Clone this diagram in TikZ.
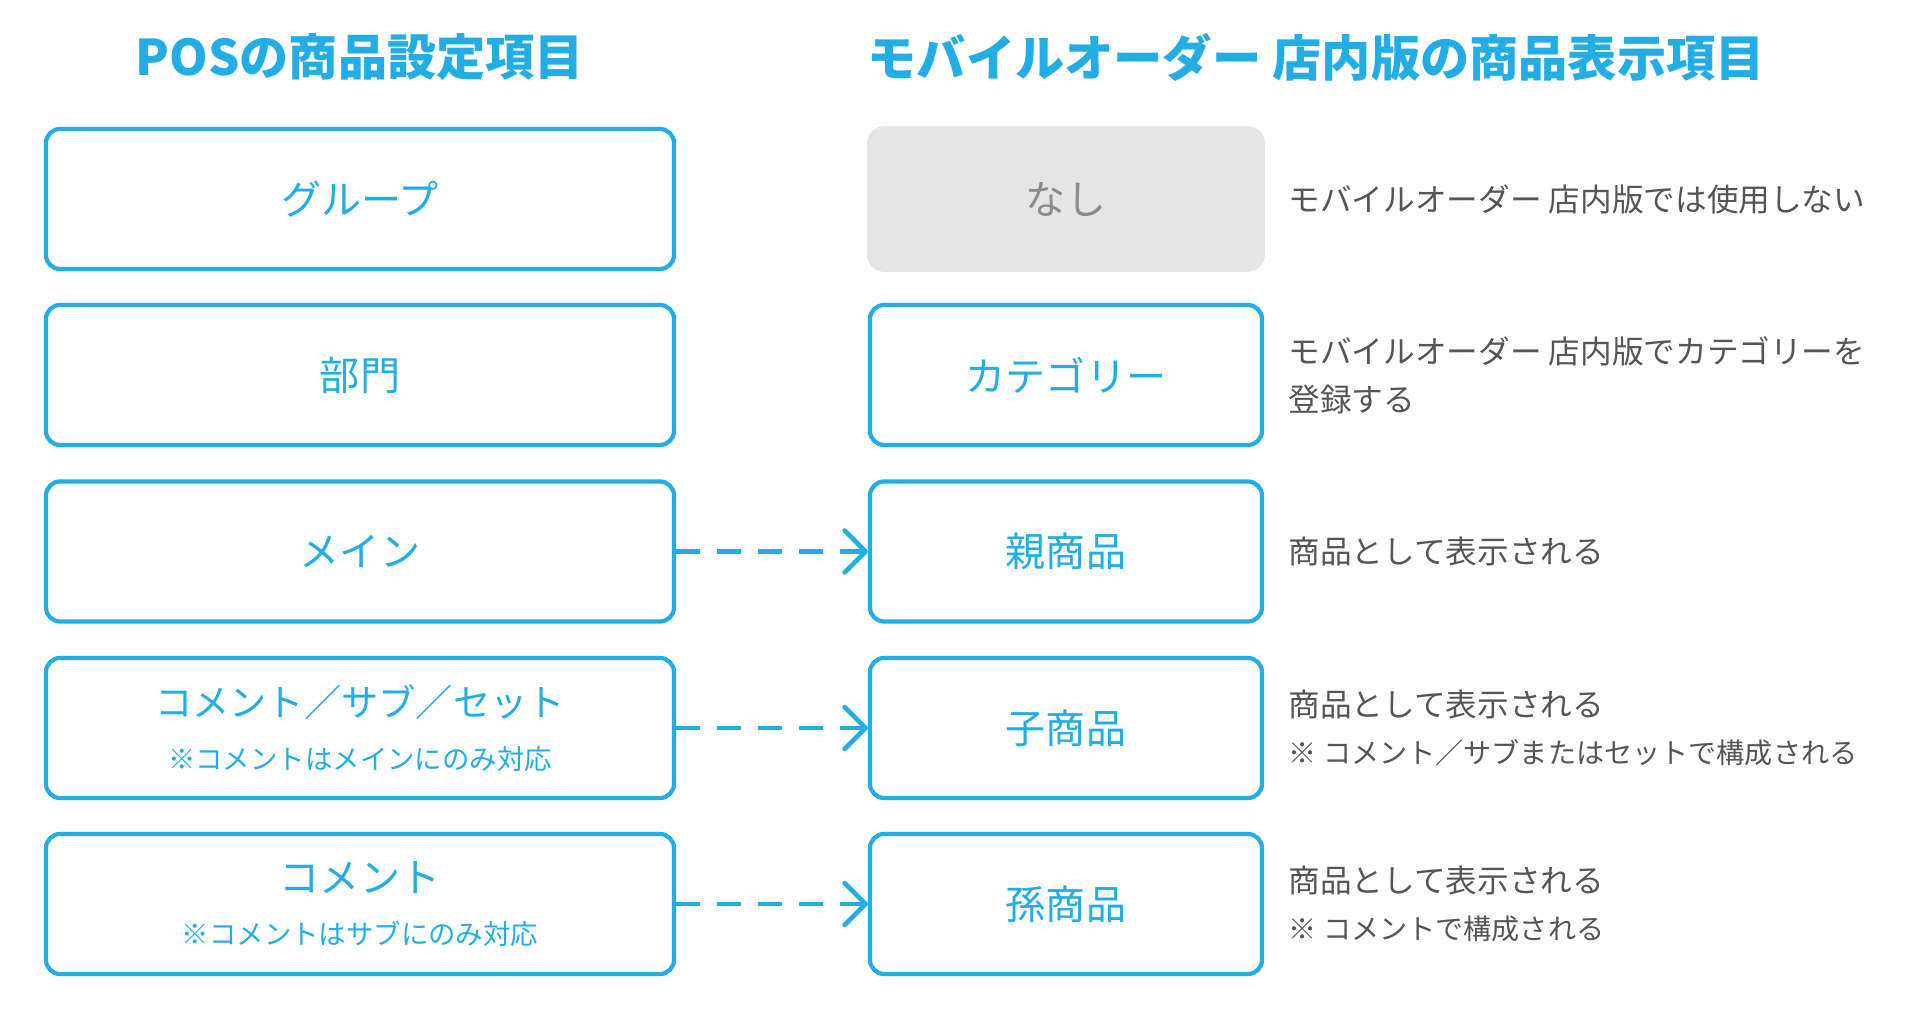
\documentclass[tikz,border=0pt]{standalone}
\usepackage{fontspec}
\setmainfont{Noto Sans CJK JP}
\usetikzlibrary{positioning, arrows.meta}
\definecolor{moblue}{RGB}{34,174,228}
\definecolor{nonegray}{RGB}{229,229,229}
\definecolor{nonetext}{RGB}{140,140,140}
\definecolor{desctext}{RGB}{85,85,85}
\tikzset{
    coltitle/.style={font=\fontsize{14}{16}\selectfont\bfseries, text=moblue, inner sep=0pt},
    posbox/.style={rectangle, rounded corners=4pt, draw=moblue, fill=white, line width=1.2pt, minimum width=6.28cm, minimum height=1.40cm, align=center, text=moblue, font=\fontsize{11.4}{15}\selectfont},
    mobox/.style={rectangle, rounded corners=4pt, draw=moblue, fill=white, line width=1.2pt, minimum width=3.92cm, minimum height=1.40cm, align=center, text=moblue, font=\fontsize{11.4}{15}\selectfont},
    nonebox/.style={rectangle, rounded corners=5pt, fill=nonegray, minimum width=3.98cm, minimum height=1.46cm, align=center, text=nonetext, font=\fontsize{11.4}{15}\selectfont},
    desc/.style={anchor=west, inner sep=0pt, align=left, text=desctext, font=\fontsize{9}{13.6}\selectfont},
    maparr/.style={-{Straight Barb[length=0.21cm, width=0.42cm, round]}, line width=1.3pt, color=moblue, dash pattern=on 0.24cm off 0.17cm}
}
\newcommand{\subnote}{\fontsize{7.8}{14.5}\selectfont}
\newcommand{\descnote}{\fontsize{8}{14}\selectfont}

\begin{document}
\begin{tikzpicture}
    \useasboundingbox (0,0) rectangle (19.2,10.2);
    % === column titles ===
    \node[coltitle] (postitle) at (3.60,9.63) {POSの商品設定項目};
    \node[coltitle, anchor=west] (motitle) at (8.67,9.63) {モバイルオーダー 店内版の商品表示項目};

    % === POS items ===
    \node[posbox] (group) at (3.60,8.21) {グループ};
    \node[posbox] (dept) at (3.60,6.45) {部門};
    \node[posbox] (main) at (3.60,4.685) {メイン};
    \node[posbox] (sub) at (3.60,2.92) {{\fontsize{10.6}{15}\selectfont コメント／サブ／セット}\\{\subnote ※コメントはメインにのみ対応}};
    \node[posbox] (comment) at (3.60,1.16) {コメント\\{\subnote ※コメントはサブにのみ対応}};

    % === mobile order items ===
    \node[nonebox] (none) at (10.66,8.21) {なし};
    \node[mobox] (category) at (10.66,6.45) {カテゴリー};
    \node[mobox] (parent) at (10.66,4.685) {親商品};
    \node[mobox] (child) at (10.66,2.92) {子商品};
    \node[mobox] (grandchild) at (10.66,1.16) {孫商品};

    % === notes ===
    \node[desc] (nonedesc) at (12.88,8.21) {モバイルオーダー 店内版では使用しない};
    \node[desc] (catdesc) at (12.88,6.45) {モバイルオーダー 店内版でカテゴリーを\\登録する};
    \node[desc] (parentdesc) at (12.88,4.685) {商品として表示される};
    \node[desc] (childdesc) at (12.88,2.92) {商品として表示される\\{\descnote ※ コメント／サブまたはセットで構成される}};
    \node[desc] (gchilddesc) at (12.88,1.16) {商品として表示される\\{\descnote ※ コメントで構成される}};

    % mapping arrows
    \draw[maparr] (main.east) -- (parent.west);
    \draw[maparr] (sub.east) -- (child.west);
    \draw[maparr] (comment.east) -- (grandchild.west);
\end{tikzpicture}
\end{document}
